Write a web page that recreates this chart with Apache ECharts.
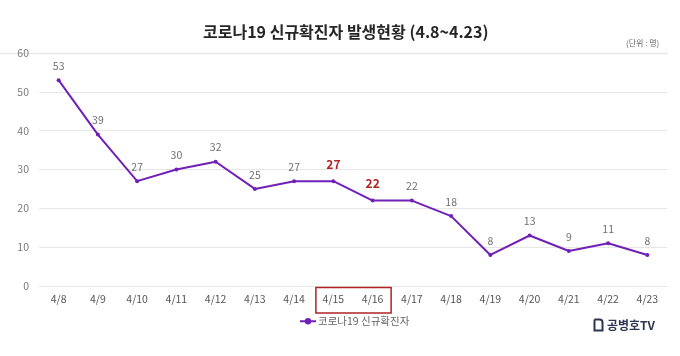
<!DOCTYPE html>
<html><head><meta charset="utf-8">
<script src="https://cdn.jsdelivr.net/npm/echarts@6/dist/echarts.min.js"></script>
<style>html,body{margin:0;padding:0;background:#fff}#c{width:680px;height:356px}</style>
</head><body><div id="c"></div>
<script>
const categories = ['4/8','4/9','4/10','4/11','4/12','4/13','4/14','4/15','4/16','4/17','4/18','4/19','4/20','4/21','4/22','4/23'];
const cases = [53,39,27,30,32,25,27,27,22,22,18,8,13,9,11,8];
const highlighted = ['4/15','4/16'];
const seriesName = '코로나19 신규확진자';
const yTicks = {min:0, max:60, interval:10};

const FONT = '"Noto Sans CJK KR", "Noto Sans", sans-serif';
const LINE = '#7020B8';
const RED = '#B02424';

const chart = echarts.init(document.getElementById('c'));
const data = cases.map((v,i)=> highlighted.includes(categories[i]) ? {
  value: v,
  label: {color: RED, fontWeight:'bold', fontSize:12, distance:9}
} : v);

chart.setOption({
  animation:false,
  textStyle:{fontFamily:FONT},
  title:{text:'코로나19 신규확진자 발생현황 (4.8~4.23)', left:198, top:19,
    textStyle:{fontSize:16, fontWeight:'bold', color:'#262626', fontFamily:FONT}},
  grid:{left:39, right:13, top:53, bottom:70},
  legend:{left:294, top:311, itemWidth:16, itemHeight:8, itemGap:4,
    textStyle:{fontSize:10.5, color:'#666', fontFamily:FONT, padding:[0,0,0,-3]},
    data:[{name:seriesName}]},
  xAxis:{type:'category', data:categories, boundaryGap:true,
    axisLine:{show:false}, axisTick:{show:false},
    axisLabel:{color:'#555', fontSize:10.5, margin:8, fontFamily:FONT}},
  yAxis:{type:'value', min:yTicks.min, max:yTicks.max, interval:yTicks.interval,
    axisLine:{show:false}, axisTick:{show:false},
    axisLabel:{color:'#7a7a7a', fontSize:10.5, margin:10, fontFamily:FONT},
    splitLine:{lineStyle:{color:'#e6e6e6', width:1}}},
  series:[{name:seriesName, type:'line', data:data,
    symbol:'circle', symbolSize:4,
    itemStyle:{color:LINE}, lineStyle:{color:LINE, width:2},
    label:{show:true, position:'top', distance:7, color:'#6f6f6f', fontSize:10.5, fontFamily:FONT}}]
});

const x1 = chart.convertToPixel({xAxisIndex:0}, highlighted[0]);
const x2 = chart.convertToPixel({xAxisIndex:0}, highlighted[highlighted.length-1]);
chart.setOption({
  graphic:[
    {type:'line', shape:{x1:0, y1:53.5, x2:668, y2:53.5}, style:{stroke:'#ececec', lineWidth:1.5}, z:-1},
    {type:'text', left:626, top:39, style:{text:'(단위 : 명)', fontSize:8, fill:'#666', fontFamily:FONT}},
    {type:'rect', shape:{x:x1-17.5, y:287.5, width:(x2-x1)+36, height:25.5},
      style:{fill:'none', stroke:RED, lineWidth:1.5}},
    {type:'rect', shape:{x:594.5, y:319.5, width:8, height:11, r:[0,3,0,0]},
      style:{fill:'none', stroke:'#2b3650', lineWidth:2}},
    {type:'text', x:607, y:325, style:{text:'공병호TV', fontSize:12, fontWeight:'bold', fill:'#2b3650', fontFamily:FONT, textVerticalAlign:'middle'}}
  ]
});
</script></body></html>
